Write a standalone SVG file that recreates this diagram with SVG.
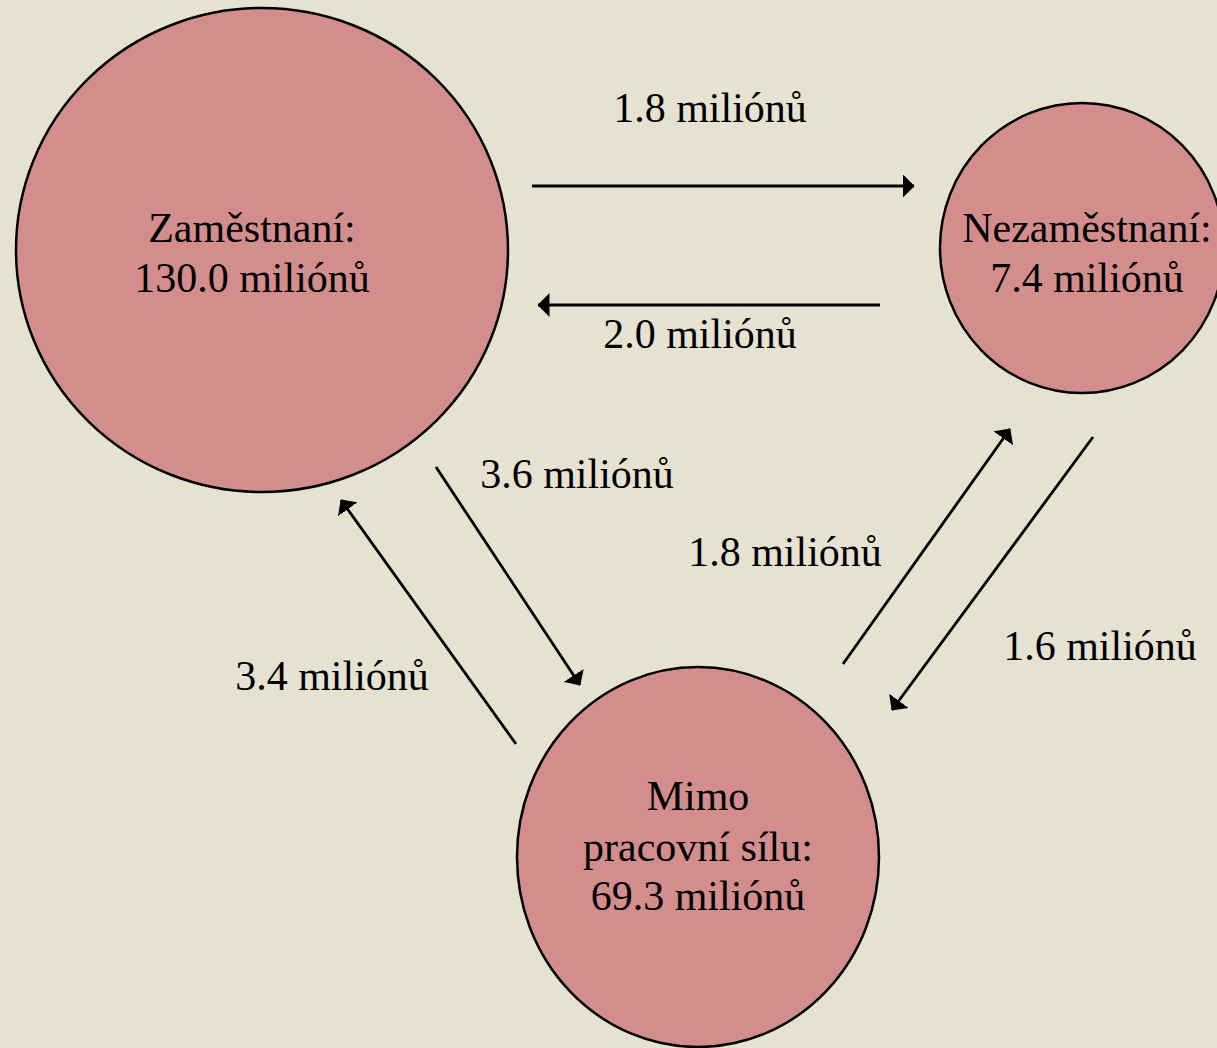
<svg xmlns="http://www.w3.org/2000/svg" width="1217" height="1048" viewBox="0 0 1217 1048">
<style>
.node{fill:#D38D8C;stroke:#000;stroke-width:2.5}
.lbl{font-family:"Liberation Serif","Times New Roman",serif;font-size:42px;fill:#000;text-anchor:middle}
.conn{stroke:#000;stroke-width:2.8;fill:none;marker-end:url(#ah)}
</style>
<defs>
<marker id="ah" viewBox="0 0 12 24" refX="11.5" refY="12" markerWidth="12" markerHeight="24" markerUnits="userSpaceOnUse" orient="auto">
<path d="M0,0 L12,12 L0,24 Z" fill="#000"/>
</marker>
</defs>
<rect width="1217" height="1048" fill="#E6E2D2"/>
<g id="connectors">
<line class="conn" x1="532" y1="186" x2="914" y2="186"/>
<line class="conn" x1="880" y1="305" x2="538" y2="305"/>
<line class="conn" x1="436" y1="467" x2="580" y2="685"/>
<line class="conn" x1="516" y1="744" x2="341" y2="500"/>
<line class="conn" x1="843" y1="664" x2="1010" y2="429"/>
<line class="conn" x1="1093" y1="437" x2="892" y2="710"/>
<text class="lbl" x="710" y="122">1.8 miliónů</text>
<text class="lbl" x="700" y="348">2.0 miliónů</text>
<text class="lbl" x="577" y="488">3.6 miliónů</text>
<text class="lbl" x="785" y="566">1.8 miliónů</text>
<text class="lbl" x="1100" y="660">1.6 miliónů</text>
<text class="lbl" x="332" y="690">3.4 miliónů</text>
</g>
<g id="employed">
<ellipse class="node" cx="262" cy="250" rx="246" ry="242"/>
<text class="lbl" x="252" y="242">Zaměstnaní:</text>
<text class="lbl" x="252" y="292">130.0 miliónů</text>
</g>
<g id="unemployed">
<ellipse class="node" cx="1082" cy="248" rx="142" ry="145"/>
<text class="lbl" x="1087" y="242">Nezaměstnaní:</text>
<text class="lbl" x="1087" y="292">7.4 miliónů</text>
</g>
<g id="outside">
<ellipse class="node" cx="698" cy="857" rx="181" ry="190"/>
<text class="lbl" x="698" y="810">Mimo</text>
<text class="lbl" x="698" y="861">pracovní sílu:</text>
<text class="lbl" x="698" y="910">69.3 miliónů</text>
</g>
</svg>
